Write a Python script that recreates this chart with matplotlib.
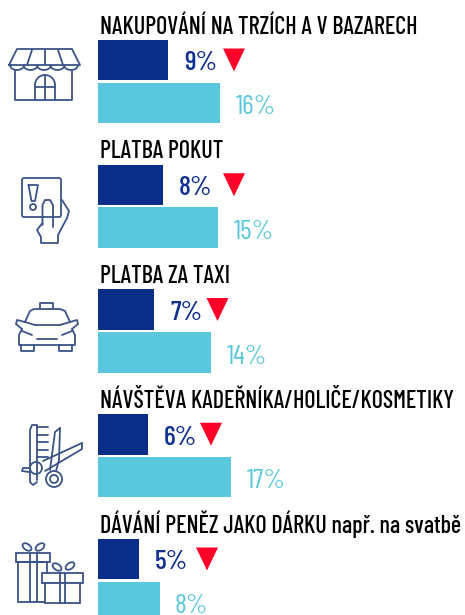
import matplotlib
matplotlib.use("Agg")
import matplotlib.pyplot as plt
from matplotlib.patches import Circle, Ellipse, FancyBboxPatch, Polygon, Arc, Rectangle

titles = ["NAKUPOVÁNÍ NA TRZÍCH A V BAZARECH", "PLATBA POKUT", "PLATBA ZA TAXI",
          "NÁVŠTĚVA KADEŘNÍKA/HOLIČE/KOSMETIKY", "DÁVÁNÍ PENĚZ JAKO DÁRKU např. na svatbě"]
# bar lengths, labels as printed
dark_vals = [9.1, 8.4, 7.3, 6.5, 5.3]
light_vals = [15.9, 15.6, 14.7, 17.3, 8.0]
dark_labels = ["9%", "8%", "7%", "6%", "5%"]
light_labels = ["16%", "15%", "14%", "17%", "8%"]
tri_x = [234, 234, 217.5, 211, 207]

DARK = "#0A2D87"
LIGHT = "#5AC8DC"
RED = "#FF0029"
ICON = "#3A5488"
FONT = ["Barlow Condensed", "DejaVu Sans"]

W, H = 465, 615
PX_PCT = 7.7
PITCH = 124.75
fig = plt.figure(figsize=(W / 100, H / 100), dpi=100)

ax = fig.add_axes([0, 0, 1, 1])
ax.set_xlim(-98 / PX_PCT, (W - 98) / PX_PCT)
ax.set_ylim((H - 81.5) / PITCH, -81.5 / PITCH)
ax.axis("off")

px = fig.add_axes([0, 0, 1, 1])
px.set_xlim(0, W)
px.set_ylim(H, 0)
px.axis("off")
px.patch.set_alpha(0)

rows = list(range(len(titles)))
ax.barh([r - 0.172 for r in rows], dark_vals, height=0.325, color=DARK)
ax.barh([r + 0.172 for r in rows], light_vals, height=0.325, color=LIGHT)

for r in rows:
    ax.annotate(dark_labels[r], (dark_vals[r], r - 0.172), xytext=(11.5, -7.5), textcoords="offset points",
                va="baseline", ha="left", fontsize=20, color="#10308F", family=FONT, weight=500)
    ax.annotate(light_labels[r], (light_vals[r], r + 0.172), xytext=(11, -8), textcoords="offset points",
                va="baseline", ha="left", fontsize=20, color=LIGHT, family=FONT, weight=400)
    top = 48.5 + PITCH * r
    px.add_patch(Polygon([(tri_x[r] - 11, top), (tri_x[r] + 11, top), (tri_x[r], top + 23)], color=RED, lw=0))
    px.text(100, 33.5 + PITCH * r, titles[r], fontsize=17.3, family=FONT, weight=500, color="black",
            va="baseline", ha="left")


def line(*pts):
    px.plot([p[0] for p in pts], [p[1] for p in pts], color=ICON, lw=1.3,
            solid_capstyle="round", solid_joinstyle="round")


def ring(x, y, r):
    px.add_patch(Circle((x, y), r, fill=False, ec=ICON, lw=1.3))


def box(x0, y0, x1, y1):
    px.add_patch(Rectangle((x0, y0), x1 - x0, y1 - y0, fill=False, ec=ICON, lw=1.3))


def bow(x, y, angle):
    px.add_patch(Ellipse((x, y), 10, 6, angle=angle, fill=False, ec=ICON, lw=1.3))


# shop
line((9, 65), (17, 49), (72, 49), (80, 65), (9, 65))
line((32, 50), (27, 65))
line((45, 50), (45, 65))
line((58, 50), (63, 65))
for i in range(5):
    px.add_patch(Arc((17 + i * 13.5, 65), 14, 10, theta1=0, theta2=180, ec=ICON, lw=1.3))
line((15, 71), (15, 100), (72, 100), (72, 71))
line((35, 100), (35, 85))
line((55, 100), (55, 85))
px.add_patch(Arc((45, 85), 20, 20, theta1=180, theta2=360, ec=ICON, lw=1.3))
line((45, 75), (45, 100))
line((35, 87), (55, 87))

# card and hand
px.add_patch(FancyBboxPatch((24, 180), 35, 35, boxstyle="round,pad=2", fill=False, ec=ICON, lw=1.3))
line((28.5, 185), (38, 185), (35, 201), (31.5, 201), (28.5, 185))
ring(33, 207, 3)
line((42.5, 225), (42.5, 205), (45, 200), (50, 200), (53, 205), (53, 227))
line((62, 200), (69, 211), (67, 218), (58, 235), (58, 243), (41, 243), (41, 237), (37, 230), (42.5, 223))

# taxi
line((40, 308), (40, 303), (53, 303), (53, 308))
line((25, 322), (30, 311), (34, 309), (60, 309), (65, 311), (70, 322))
line((25, 322), (35, 325), (60, 325), (70, 322))
line((25, 322), (17, 320), (16, 324), (22, 329))
line((70, 322), (77, 320), (78, 324), (72, 329))
line((22, 329), (19, 335), (19, 345), (75, 345), (75, 335), (72, 329))
line((37, 339), (57, 339))
line((22, 331), (32, 335))
line((72, 331), (62, 335))
line((21, 345), (21, 351), (34, 351), (34, 345))
line((59, 345), (59, 351), (72, 351), (72, 345))

# comb and scissors
line((37, 480), (37, 425), (32, 425), (30, 430), (30, 482), (33, 485), (37, 482))
for ty in (427, 435, 442, 450, 457):
    line((37, ty), (48, ty))
line((60, 428), (55, 432), (50, 470))
line((60, 428), (59, 460), (56, 471))
ring(54, 479, 8)
ring(54, 479, 4)
line((82, 443), (43, 461))
line((82, 443), (82, 449), (45, 471))
ring(36, 468, 6)
line((30, 468), (23, 468), (22, 471), (29, 472))

# gifts
box(16, 553, 50, 562)
box(18, 562, 47, 602)
line((30, 553), (30, 602))
line((37, 553), (37, 602))
bow(27, 547, 35)
bow(40, 547, -35)
px.add_patch(Rectangle((42, 573), 41, 10, fc="white", ec=ICON, lw=1.3, zorder=3))
px.add_patch(Rectangle((45, 583), 35, 20, fc="white", ec=ICON, lw=1.3, zorder=3))
for bx in (60, 65):
    px.plot([bx, bx], [573, 603], color=ICON, lw=1.3, zorder=4)
bow(57, 567, 35)
bow(70, 566, -35)

fig.savefig("out.png", dpi=100)
